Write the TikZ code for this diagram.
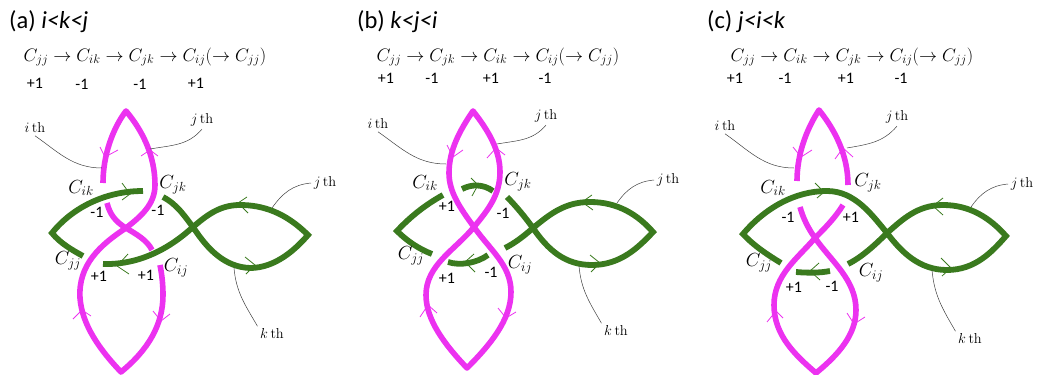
\documentclass[tikz,border=0pt]{standalone}
\usepackage{fontspec}
\setsansfont{Carlito}
\usepackage{tikz}
\usetikzlibrary{calc, positioning}
\definecolor{strandpink}{RGB}{236,50,240}
\definecolor{strandgreen}{RGB}{58,122,30}
\tikzset{
  pinkline/.style={strandpink, line width=5.6pt, line join=round},
  greenline/.style={strandgreen, line width=5.8pt, line join=miter},
  pinkbarb/.style={strandpink, line width=0.8pt},
  greenbarb/.style={strandgreen, line width=0.8pt},
  leader/.style={black!75, line width=0.5pt},
  heading/.style={font=\sffamily\fontsize{24.5}{28}\selectfont, anchor=west, inner sep=0pt},
  chain/.style={font=\fontsize{17.28}{21}\selectfont, inner sep=0pt, scale=1.045, transform shape},
  sign/.style={font=\sffamily\fontsize{16}{18}\selectfont, inner sep=0pt},
  crossing/.style={font=\fontsize{17.28}{21}\selectfont, inner sep=0pt, scale=1.1, transform shape},
  strandname/.style={font=\fontsize{14.4}{17}\selectfont, inner sep=2.5pt}
}
\newcommand{\barb}[4]{\draw[#1] #2 -- #3 -- #4;}
\newcommand{\cchain}[1]{$C_{jj}\rightarrow #1(\rightarrow C_{jj})$}
\begin{document}
\begin{tikzpicture}[x=1pt, y=-1pt]
\useasboundingbox (0,0) rectangle (1037,375);
% (a)
\node[heading] (titlea) at (9,22) {(a) \textit{i<k<j}};
\node[chain] (chaina) at (145,57) {\cchain{C_{ik}\rightarrow C_{jk}\rightarrow C_{ij}}};
\node[sign] (sa1) at (35,83) {+1};
\node[sign] (sa2) at (82,84) {-1};
\node[sign] (sa3) at (140,84) {-1};
\node[sign] (sa4) at (196,83) {+1};
% green first, the pink runs on top
\draw[greenline] (143,191) .. controls (105,191) and (72,208) .. (52,233) .. controls (60,243) and (72,250) .. (83,256);
\draw[greenline] (163,197) .. controls (178,205) and (185,217) .. (193,227) .. controls (208,250) and (225,267) .. (250,268) .. controls (275,268) and (295,250) .. (308,235) .. controls (285,212) and (262,205) .. (240,205) .. controls (220,205) and (207,215) .. (193,227) .. controls (170,248) and (140,265) .. (103,264);
\draw[pinkline] (103,183) .. controls (103,155) and (113,128) .. (126,111) .. controls (142,130) and (155,155) .. (155,185) .. controls (155,205) and (140,217) .. (126,228) .. controls (100,245) and (78,265) .. (80,298) .. controls (82,325) and (100,350) .. (121,372) .. controls (148,350) and (163,325) .. (163,295) .. controls (163,285) and (162,275) .. (160,265);
\draw[pinkline] (107,203) .. controls (110,215) and (116,222) .. (126,228) .. controls (136,234) and (147,240) .. (152,250);
\barb{pinkbarb}{(100,147)}{(105,157)}{(118,150)}
\barb{pinkbarb}{(141,156)}{(150,150)}{(158,156)}
\barb{pinkbarb}{(73,319)}{(82,310)}{(91,316)}
\barb{pinkbarb}{(153,311)}{(161,321)}{(170,314)}
\barb{greenbarb}{(122,183)}{(130,194)}{(122,200)}
\barb{greenbarb}{(247,197)}{(238,203)}{(248,213)}
\barb{greenbarb}{(245,257)}{(255,265)}{(246,274)}
\barb{greenbarb}{(128,254)}{(117,266)}{(129,274)}
\node[crossing] (cika) at (81,188) {$C_{ik}$};
\node[crossing] (cjka) at (173,185) {$C_{jk}$};
\node[crossing] (cjja) at (68,261) {$C_{jj}$};
\node[crossing] (cija) at (176,268) {$C_{ij}$};
\node[sign] (xa1) at (97,212) {-1};
\node[sign] (xa2) at (158,210) {-1};
\node[sign] (xa3) at (99,276) {+1};
\node[sign] (xa4) at (146,275) {+1};
\node[strandname] (itha) at (35,128) {$i$\kern2.5pt th};
\node[strandname] (jtha) at (202,120) {$j$\kern2.5pt th};
\node[strandname] (jrtha) at (325,183) {$j$\kern2.5pt th};
\node[strandname] (ktha) at (272,334) {$k$\kern2.5pt th};
\coordinate (ienda) at (102,168);
\coordinate (jenda) at (150,149);
\coordinate (jrenda) at (272,208);
\coordinate (kenda) at (234,268);
\draw[leader] (itha.south) to[out=-35, in=180] (ienda);
\draw[leader] (jtha.south) to[out=-130, in=10] (jenda);
\draw[leader] (jrtha.west) to[out=185, in=55] (jrenda);
\draw[leader] (ktha.north west) to[out=120, in=-85] (kenda);
% (b)
\node[heading] (titleb) at (357,22) {(b) \textit{k<j<i}};
\node[chain] (chainb) at (498,57) {\cchain{C_{jk}\rightarrow C_{ik}\rightarrow C_{ij}}};
\node[sign] (sb1) at (386,78) {+1};
\node[sign] (sb2) at (432,78) {-1};
\node[sign] (sb3) at (491,78) {+1};
\node[sign] (sb4) at (545,78) {-1};
\draw[greenline] (443,195) .. controls (425,205) and (410,217) .. (397,231) .. controls (407,241) and (419,249) .. (432,254);
\draw[greenline] (462,189) .. controls (472,184) and (483,184) .. (493,191);
\draw[greenline] (507,197) .. controls (516,206) and (525,217) .. (533,228) .. controls (548,250) and (565,265) .. (592,265) .. controls (620,265) and (638,248) .. (653,232) .. controls (638,215) and (618,202) .. (590,202) .. controls (565,202) and (550,214) .. (533,228) .. controls (524,236) and (515,243) .. (505,248);
\draw[greenline] (488,255) .. controls (477,263) and (460,266) .. (448,262);
\draw[pinkline] (473,111) .. controls (460,130) and (449,150) .. (449,173) .. controls (449,192) and (460,208) .. (474,227) .. controls (490,250) and (511,265) .. (511,292) .. controls (511,320) and (490,345) .. (467,368) .. controls (445,345) and (426,320) .. (426,295) .. controls (426,265) and (455,250) .. (474,227) .. controls (488,210) and (500,195) .. (500,172) .. controls (500,150) and (488,130) .. (473,111) -- cycle;
\barb{pinkbarb}{(447,145)}{(453,157)}{(463,150)}
\barb{pinkbarb}{(487,158)}{(496,148)}{(505,155)}
\barb{pinkbarb}{(420,317)}{(428,305)}{(437,313)}
\barb{pinkbarb}{(498,308)}{(506,318)}{(516,312)}
\barb{greenbarb}{(471,178)}{(478,185)}{(472,196)}
\barb{greenbarb}{(592,195)}{(582,202)}{(593,210)}
\barb{greenbarb}{(590,255)}{(600,263)}{(591,272)}
\barb{greenbarb}{(474,254)}{(465,262)}{(475,272)}
\node[crossing] (cikb) at (425,183) {$C_{ik}$};
\node[crossing] (cjkb) at (518,182) {$C_{jk}$};
\node[crossing] (cjjb) at (411,256) {$C_{jj}$};
\node[crossing] (cijb) at (520,265) {$C_{ij}$};
\node[sign] (xb1) at (447,206) {+1};
\node[sign] (xb2) at (503,213) {-1};
\node[sign] (xb3) at (447,278) {+1};
\node[sign] (xb4) at (491,272) {-1};
\node[strandname] (ithb) at (378,124) {$i$\kern2.5pt th};
\node[strandname] (jthb) at (546,116) {$j$\kern2.5pt th};
\node[strandname] (jrthb) at (668,180) {$j$\kern2.5pt th};
\node[strandname] (kthb) at (616,331) {$k$\kern2.5pt th};
\coordinate (iendb) at (446,164);
\coordinate (jendb) at (497,144);
\coordinate (jrendb) at (617,203);
\coordinate (kendb) at (579,266);
\draw[leader] (ithb.south) to[out=-35, in=180] (iendb);
\draw[leader] (jthb.south) to[out=-130, in=10] (jendb);
\draw[leader] (jrthb.west) to[out=185, in=55] (jrendb);
\draw[leader] (kthb.north west) to[out=120, in=-85] (kendb);
% (c)
\node[heading] (titlec) at (707,22) {(c) \textit{j<i<k}};
\node[chain] (chainc) at (852,57) {\cchain{C_{ik}\rightarrow C_{jk}\rightarrow C_{ij}}};
\node[sign] (sc1) at (735,78) {+1};
\node[sign] (sc2) at (785,78) {-1};
\node[sign] (sc3) at (846,78) {+1};
\node[sign] (sc4) at (901,78) {-1};
\draw[greenline] (781,263) .. controls (768,255) and (754,246) .. (743,234) .. controls (765,208) and (795,191) .. (827,191) .. controls (855,191) and (872,215) .. (887,233) .. controls (902,253) and (920,270) .. (947,270) .. controls (975,270) and (992,252) .. (1006,236) .. controls (990,218) and (970,205) .. (943,205) .. controls (917,205) and (902,220) .. (887,233) .. controls (875,245) and (862,257) .. (848,264);
\draw[greenline] (796,272) .. controls (807,273) and (820,273) .. (830,271);
\draw[pinkline] (797,181) .. controls (797,155) and (806,130) .. (819,110) .. controls (835,130) and (848,155) .. (848,185);
\draw[pinkline] (800,207) .. controls (803,218) and (808,228) .. (815,238) .. controls (832,262) and (856,280) .. (856,310) .. controls (856,335) and (838,355) .. (816,373) .. controls (795,355) and (774,335) .. (774,305) .. controls (774,275) and (798,258) .. (815,238) .. controls (825,228) and (835,218) .. (843,205);
\barb{pinkbarb}{(793,147)}{(801,157)}{(812,150)}
\barb{pinkbarb}{(835,159)}{(843,148)}{(853,157)}
\barb{pinkbarb}{(767,322)}{(776,311)}{(783,318)}
\barb{pinkbarb}{(847,313)}{(854,324)}{(865,317)}
\barb{greenbarb}{(815,183)}{(824,192)}{(817,198)}
\barb{greenbarb}{(943,198)}{(933,206)}{(943,215)}
\barb{greenbarb}{(941,258)}{(951,268)}{(942,276)}
\barb{greenbarb}{(819,263)}{(810,271)}{(820,280)}
\node[crossing] (cikc) at (773,188) {$C_{ik}$};
\node[crossing] (cjkc) at (868,183) {$C_{jk}$};
\node[crossing] (cjjc) at (759,263) {$C_{jj}$};
\node[crossing] (cijc) at (871,273) {$C_{ij}$};
\node[sign] (xc1) at (788,217) {-1};
\node[sign] (xc2) at (851,217) {+1};
\node[sign] (xc3) at (794,287) {+1};
\node[sign] (xc4) at (832,286) {-1};
\node[strandname] (ithc) at (725,126) {$i$\kern2.5pt th};
\node[strandname] (jthc) at (897,117) {$j$\kern2.5pt th};
\node[strandname] (jrthc) at (1022,184) {$j$\kern2.5pt th};
\node[strandname] (kthc) at (970,339) {$k$\kern2.5pt th};
\coordinate (iendc) at (794,168);
\coordinate (jendc) at (847,148);
\coordinate (jrendc) at (971,207);
\coordinate (kendc) at (932,270);
\draw[leader] (ithc.south) to[out=-35, in=180] (iendc);
\draw[leader] (jthc.south) to[out=-130, in=10] (jendc);
\draw[leader] (jrthc.west) to[out=185, in=55] (jrendc);
\draw[leader] (kthc.north west) to[out=120, in=-85] (kendc);
\end{tikzpicture}
\end{document}
